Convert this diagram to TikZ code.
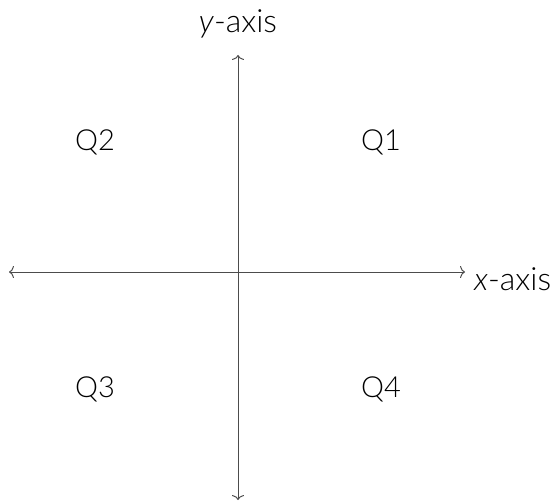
\documentclass[tikz,border=0pt]{standalone}
\usepackage{fontspec}
\setmainfont{Lato Light}
\usetikzlibrary{arrows.meta}
\begin{document}
\begin{tikzpicture}[x=1pt,y=-1pt,
  axis/.style={draw=black!70,line width=1pt,
    {Computer Modern Rightarrow[length=5pt,width=12pt]}-{Computer Modern Rightarrow[length=5pt,width=12pt]}},
  lab/.style={font=\fontsize{29}{32}\selectfont,inner sep=0pt,anchor=base},
  axlab/.style={font=\fontsize{32}{36}\selectfont,inner sep=0pt,anchor=base}]
\useasboundingbox (0,0) rectangle (559,503);
\coordinate (xl) at (9,272);
\coordinate (xr) at (465,272);
\coordinate (yt) at (238,55);
\coordinate (yb) at (238,500);
\draw[axis] (xl) -- (xr);
\draw[axis] (yb) -- (yt);
\node[axlab,anchor=base west] (xa) at (474,290) {\textit{x}-axis};
\node[axlab] (ya) at (238,33) {\textit{y}-axis};
\node[lab] (q1) at (381,150) {Q1};
\node[lab] (q2) at (95,150) {Q2};
\node[lab] (q3) at (95,397) {Q3};
\node[lab] (q4) at (381,397) {Q4};
\end{tikzpicture}
\end{document}
